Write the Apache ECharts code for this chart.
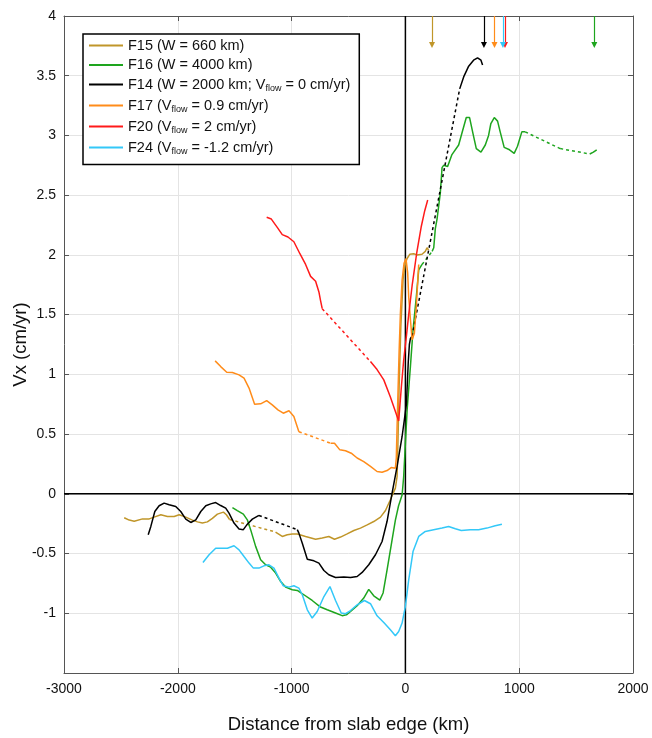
<!DOCTYPE html>
<html>
<head>
<meta charset="utf-8">
<script src="https://cdn.jsdelivr.net/npm/echarts@6/dist/echarts.min.js"></script>
<style>
  html, body { margin: 0; padding: 0; background: #fff; }
  #chart { width: 652px; height: 738px; }
</style>
</head>
<body>
<div id="chart"></div>
<script>
// Horizontal velocity profiles across the slab edge (km vs cm/yr).
// Each run is a list of solid pieces; gaps between pieces are drawn dotted.

const xTicks = [-3000, -2000, -1000, 0, 1000, 2000];
const yTicks = [-1.5, -1, -0.5, 0, 0.5, 1, 1.5, 2, 2.5, 3, 3.5, 4];

const runNames = ['F15', 'F16', 'F14', 'F17', 'F20', 'F24'];
const runLabels = [
  ['F15 (W = 660 km)'],
  ['F16 (W = 4000 km)'],
  ['F14 (W = 2000 km; V', 'flow', ' = 0 cm/yr)'],
  ['F17 (V', 'flow', ' = 0.9 cm/yr)'],
  ['F20 (V', 'flow', ' = 2 cm/yr)'],
  ['F24 (V', 'flow', ' = -1.2 cm/yr)']
];
// positions (km) of the downward markers along the top edge
const markerKm = [234, 1660, 690, 783, 875, 857];

// F15 (W = 660 km)
const f15a = [[-2471,-0.20],[-2427,-0.22],[-2383,-0.23],[-2310,-0.21],[-2251,-0.21],[-2208,-0.195],[-2149,-0.175],[-2091,-0.19],[-2032,-0.19],[-1988,-0.175],[-1930,-0.195],[-1871,-0.22],[-1827,-0.235],[-1784,-0.245],[-1740,-0.235],[-1696,-0.205],[-1652,-0.17],[-1599,-0.153],[-1573,-0.175],[-1545,-0.215]];
const f15b = [[-1141,-0.32],[-1082,-0.357],[-1038,-0.343],[-994,-0.337],[-950,-0.337],[-877,-0.357],[-789,-0.38],[-731,-0.37],[-673,-0.357],[-623,-0.38],[-570,-0.362],[-512,-0.335],[-453,-0.307],[-395,-0.287],[-336,-0.26],[-278,-0.232],[-219,-0.195],[-175,-0.14],[-132,-0.05],[-88,0.048],[-73,0.145],[-66,0.4],[-55,0.9],[-40,1.4],[-20,1.8],[0,1.93],[15,1.97],[38,2.005],[73,2.01],[102,2.0],[146,2.006],[175,2.03],[190,2.06],[204,2.04]];

// F16 (W = 4000 km)
const f16a = [[-1520,-0.115],[-1477,-0.14],[-1424,-0.17],[-1389,-0.218],[-1360,-0.30],[-1316,-0.44],[-1272,-0.552],[-1228,-0.594],[-1184,-0.614],[-1140,-0.664],[-1096,-0.734],[-1053,-0.781],[-994,-0.803],[-950,-0.809],[-892,-0.845],[-819,-0.893],[-746,-0.948],[-687,-0.971],[-614,-0.998],[-556,-1.02],[-518,-1.013],[-482,-0.985],[-424,-0.937],[-366,-0.873],[-322,-0.80],[-278,-0.854],[-225,-0.89],[-196,-0.83],[-161,-0.636],[-117,-0.385],[-88,-0.22],[-60,-0.1],[-29,-0.01],[-15,0.145],[0,0.42],[15,0.70],[44,1.065],[67,1.37],[96,1.65],[117,1.875],[146,1.92]];
const f16b = [[235,2.03],[249,2.06],[263,2.22],[278,2.30],[307,2.52],[322,2.73],[336,2.75],[371,2.74],[409,2.84],[468,2.92],[497,3.02],[535,3.15],[564,3.15],[593,3.02],[623,2.89],[664,2.86],[702,2.92],[731,3.00],[751,3.10],[781,3.15],[810,3.12],[833,3.03],[868,2.90],[915,2.88],[956,2.85],[985,2.91],[1023,3.03],[1053,3.03]];
const f16c = [[1360,2.89]];
const f16d = [[1620,2.845],[1652,2.86],[1681,2.88]];

// F14 (W = 2000 km; Vflow = 0)
const f14a = [[-2260,-0.343],[-2237,-0.273],[-2202,-0.148],[-2164,-0.10],[-2120,-0.078],[-2076,-0.092],[-2018,-0.106],[-1974,-0.148],[-1930,-0.212],[-1886,-0.24],[-1842,-0.218],[-1798,-0.148],[-1754,-0.10],[-1711,-0.084],[-1667,-0.073],[-1623,-0.098],[-1579,-0.12],[-1550,-0.162],[-1506,-0.245],[-1462,-0.295],[-1424,-0.30],[-1389,-0.254],[-1345,-0.212],[-1287,-0.181]];
const f14b = [[-950,-0.30],[-936,-0.329],[-906,-0.413],[-862,-0.547],[-804,-0.561],[-760,-0.58],[-716,-0.642],[-673,-0.678],[-614,-0.70],[-541,-0.697],[-482,-0.70],[-424,-0.692],[-380,-0.658],[-322,-0.594],[-263,-0.51],[-205,-0.399],[-161,-0.23],[-117,0.006],[-73,0.23],[-29,0.48],[9,0.75],[25,1.1],[35,1.25],[44,1.30],[59,1.32]];
const f14c = [[477,3.39],[512,3.49],[556,3.58],[599,3.63],[634,3.65],[664,3.63],[678,3.59]];

// F17 (Vflow = 0.9)
const f17a = [[-1672,1.113],[-1623,1.065],[-1570,1.018],[-1520,1.015],[-1462,0.996],[-1418,0.968],[-1374,0.885],[-1325,0.75],[-1272,0.753],[-1219,0.78],[-1170,0.745],[-1120,0.703],[-1073,0.675],[-1023,0.695],[-980,0.647],[-936,0.52]];
const f17b = [[-658,0.424],[-623,0.424],[-576,0.368],[-526,0.36],[-476,0.34],[-424,0.30],[-366,0.27],[-307,0.23],[-249,0.187],[-205,0.18],[-161,0.195],[-125,0.22],[-88,0.215],[-80,0.3],[-70,0.68],[-55,1.2],[-44,1.51],[-29,1.79],[-12,1.93],[5,1.97],[20,1.85],[29,1.65],[44,1.46],[59,1.29],[79,1.345],[96,1.57],[117,1.92]];

// F20 (Vflow = 2)
const f20a = [[-1219,2.315],[-1178,2.30],[-1126,2.23],[-1082,2.17],[-1032,2.15],[-980,2.11],[-927,2.01],[-877,1.92],[-833,1.82],[-789,1.78],[-760,1.69],[-746,1.62],[-731,1.55]];
const f20b = [[-307,1.107],[-249,1.04],[-190,0.954],[-132,0.81],[-59,0.61],[-35,0.9],[-15,1.12],[10,1.33],[29,1.5],[60,1.75],[100,2.02],[140,2.24],[170,2.37],[196,2.46]];

// F24 (Vflow = -1.2)
const f24a = [[-1779,-0.575],[-1725,-0.51],[-1667,-0.455],[-1623,-0.455],[-1564,-0.455],[-1506,-0.435],[-1462,-0.469],[-1418,-0.525],[-1374,-0.58],[-1336,-0.622],[-1287,-0.622],[-1243,-0.603],[-1199,-0.594],[-1155,-0.622],[-1111,-0.706],[-1073,-0.77],[-1023,-0.781],[-980,-0.77],[-936,-0.79],[-906,-0.845],[-862,-0.971],[-819,-1.04],[-775,-0.985],[-716,-0.86],[-663,-0.776],[-614,-0.893],[-564,-0.998],[-526,-1.004],[-482,-0.977],[-424,-0.929],[-360,-0.893],[-307,-0.92],[-249,-1.021],[-190,-1.077],[-132,-1.138],[-88,-1.188],[-59,-1.152],[-29,-1.082],[0,-0.943],[29,-0.72],[67,-0.483],[117,-0.357],[175,-0.315],[248,-0.301],[322,-0.287],[380,-0.273],[439,-0.293],[491,-0.307],[570,-0.301],[643,-0.301],[716,-0.287],[789,-0.268],[848,-0.254]];

const runPieces = [
  [f15a, f15b],
  [f16a, f16b, f16c, f16d],
  [f14a, f14b, f14c],
  [f17a, f17b],
  [f20a, f20b],
  [f24a]
];
const runColors = ['#c0962a', '#1ea51e', '#000000', '#ff8c1a', '#ff1a1a', '#33c8f8'];

const FONT = '"Liberation Sans", Arial, Helvetica, sans-serif';
const xMin = xTicks[0], xMax = xTicks[xTicks.length - 1];
const yMin = yTicks[0], yMax = yTicks[yTicks.length - 1];
const MARK_TIP = 3.757;
const LW = 1.5;

const series = [];

// reference lines through the origin
series.push({
  type: 'line', silent: true, showSymbol: false, z: 1,
  data: [[xMin, 0], [xMax, 0]],
  lineStyle: { color: '#000', width: 1.5 }
});
series.push({
  type: 'line', silent: true, showSymbol: false, z: 1,
  data: [[0, yMin], [0, yMax]],
  lineStyle: { color: '#000', width: 1.5 }
});

runNames.forEach((name, i) => {
  const color = runColors[i];
  const pieces = runPieces[i];
  pieces.forEach((piece, k) => {
    if (piece.length > 1) {
      const s = {
        name, type: 'line', showSymbol: false, silent: true, z: 3,
        data: piece, color,
        lineStyle: { color, width: LW }
      };
      if (k === 0) {
        s.markLine = {
          silent: true, symbol: ['none', 'triangle'], symbolSize: 6,
          symbolRotate: 180,
          label: { show: false },
          lineStyle: { color, width: 1.2, type: 'solid' },
          data: [[{ coord: [markerKm[i], yMax] }, { coord: [markerKm[i], MARK_TIP] }]]
        };
      }
      series.push(s);
    }
    // dotted connector to the next piece
    if (k < pieces.length - 1) {
      const next = pieces[k + 1];
      series.push({
        name, type: 'line', showSymbol: false, silent: true, z: 3,
        data: [piece[piece.length - 1], next[0]], color,
        lineStyle: { color, width: LW, type: [3, 3] }
      });
    }
  });
});

function richLabel(parts) {
  if (parts.length === 1) return '{n|' + parts[0] + '}';
  return '{n|' + parts[0] + '}{s|' + parts[1] + '}{n|' + parts[2] + '}';
}

const chart = echarts.init(document.getElementById('chart'), null, { renderer: 'canvas' });
chart.setOption({
  animation: false,
  backgroundColor: '#fff',
  grid: { left: 64, right: 19, top: 16, bottom: 65, containLabel: false, outerBoundsMode: 'none' },
  legend: {
    data: runNames.map(n => ({ name: n, icon: 'rect' })),
    orient: 'vertical',
    left: 83, top: 34,
    padding: [4, 9, 8, 6],
    itemWidth: 34, itemHeight: 2, itemGap: 4.5,
    backgroundColor: '#fff',
    borderColor: '#000', borderWidth: 1.5,
    selectedMode: false,
    formatter: name => richLabel(runLabels[runNames.indexOf(name)]),
    textStyle: {
      fontFamily: FONT, color: '#111',
      rich: {
        n: { fontFamily: FONT, fontSize: 14.5, color: '#111', lineHeight: 17 },
        s: { fontFamily: FONT, fontSize: 9, color: '#111', padding: [9, 0, 0, 0] }
      }
    }
  },
  xAxis: [{
    type: 'value', min: xMin, max: xMax, interval: 1000,
    name: 'Distance from slab edge (km)', nameLocation: 'middle', nameGap: 42,
    nameMoveOverlap: false,
    nameTextStyle: { fontFamily: FONT, fontSize: 18.5, color: '#111' },
    axisLine: { show: true, onZero: false, lineStyle: { color: '#555', width: 1 } },
    axisTick: { show: true, inside: true, length: 5, lineStyle: { color: '#555' } },
    axisLabel: { fontFamily: FONT, fontSize: 14, color: '#111', margin: 9, formatter: v => String(v) },
    splitLine: { show: true, lineStyle: { color: '#e4e4e4', width: 1 } }
  }, {
    type: 'value', min: xMin, max: xMax, interval: 1000, position: 'top',
    axisLine: { show: true, onZero: false, lineStyle: { color: '#555', width: 1 } },
    axisTick: { show: true, inside: true, length: 5, lineStyle: { color: '#555' } },
    axisLabel: { show: false }, splitLine: { show: false }
  }],
  yAxis: [{
    type: 'value', min: yMin, max: yMax, interval: 0.5,
    name: 'Vx (cm/yr)', nameLocation: 'middle', nameGap: 34, nameRotate: 90,
    nameMoveOverlap: false,
    nameTextStyle: { fontFamily: FONT, fontSize: 18.5, color: '#111' },
    axisLine: { show: true, onZero: false, lineStyle: { color: '#555', width: 1 } },
    axisTick: { show: true, inside: true, length: 5, lineStyle: { color: '#555' } },
    axisLabel: {
      fontFamily: FONT, fontSize: 14, color: '#111', margin: 8,
      formatter: v => (v === yMin ? '' : String(v))
    },
    splitLine: { show: true, lineStyle: { color: '#e4e4e4', width: 1 } }
  }, {
    type: 'value', min: yMin, max: yMax, interval: 0.5, position: 'right',
    axisLine: { show: true, onZero: false, lineStyle: { color: '#555', width: 1 } },
    axisTick: { show: true, inside: true, length: 5, lineStyle: { color: '#555' } },
    axisLabel: { show: false }, splitLine: { show: false }
  }],
  series
});
</script>
</body>
</html>
